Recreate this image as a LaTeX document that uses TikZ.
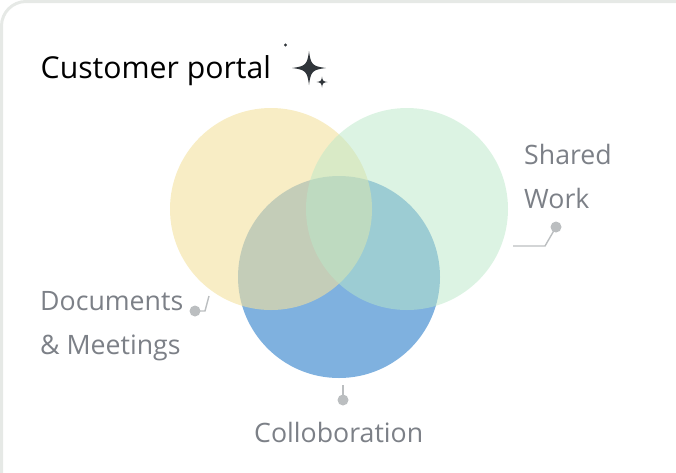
\documentclass[tikz,border=0pt]{standalone}
\usepackage{fontspec}
\setmainfont{Open Sans}
\usepackage{xcolor}
\usetikzlibrary{positioning}
\definecolor{cardline}{HTML}{E6E9E6}
\definecolor{labelgray}{HTML}{7C8087}
\definecolor{leadgray}{HTML}{BBBEC0}
\definecolor{sparkgray}{HTML}{30353A}
\definecolor{vennblue}{HTML}{7FB1DF}
\definecolor{venngreen}{HTML}{BAE8C8}
\definecolor{vennyellow}{HTML}{F3E19E}
\tikzset{
  vlabel/.style={anchor=base west,inner sep=0pt,text=labelgray,font=\fontsize{26.7}{27}\selectfont},
  vdot/.style={circle,fill=leadgray,inner sep=0pt,minimum size=11pt},
  vlead/.style={draw=leadgray,line width=1.4pt}
}
\newcommand{\sparkstar}[3]{%
  \fill[sparkgray] (#1,#2-#3) .. controls (#1+.1*#3,#2-.2*#3) and (#1+.2*#3,#2-.1*#3) .. (#1+#3,#2)
    .. controls (#1+.2*#3,#2+.1*#3) and (#1+.1*#3,#2+.2*#3) .. (#1,#2+#3)
    .. controls (#1-.1*#3,#2+.2*#3) and (#1-.2*#3,#2+.1*#3) .. (#1-#3,#2)
    .. controls (#1-.2*#3,#2-.1*#3) and (#1-.1*#3,#2-.2*#3) .. (#1,#2-#3) -- cycle;}
\begin{document}
\begin{tikzpicture}[x=1pt,y=-1pt]
  \useasboundingbox (0,0) rectangle (676,472);
  \begin{scope}
    \clip (0,0) rectangle (676,472);
    \draw[cardline,line width=3pt,rounded corners=24.5pt] (1.5,500) -- (1.5,1.5) -- (700,1.5);
  \end{scope}
  % circles
  \fill[vennblue] (339,277) circle (101);
  \fill[vennyellow,fill opacity=.6] (271,209) circle (101);
  \fill[venngreen,fill opacity=.5] (407,209) circle (101);
  % title
  \node[anchor=base west,inner sep=0pt,text=black,font=\fontsize{30.2}{30}\selectfont] (title) at (40.5,78) {Customer portal};
  \sparkstar{309}{68}{17}
  \sparkstar{322}{82}{5.5}
  \fill[sparkgray] (285.5,45) circle (1.7);
  % labels
  \node[vlabel] (docs) at (40,310) {Documents};
  \node[vlabel] (meet) at (40,354) {\& Meetings};
  \node[vlabel] (shared) at (524,164) {Shared};
  \node[vlabel] (work) at (524,208) {Work};
  \node[vlabel] (collab) at (254,442) {Colloboration};
  % leaders
  \node[vdot] (docsdot) at (195,311) {};
  \node[vdot] (shareddot) at (556,227) {};
  \node[vdot] (collabdot) at (343,400) {};
  \coordinate (docsa) at (205,311);
  \coordinate (docsb) at (209,296);
  \coordinate (shareda) at (545,246);
  \coordinate (sharedb) at (513,246);
  \coordinate (collaba) at (343,385);
  \draw[vlead] (docsdot.center) -- (docsa) -- (docsb);
  \draw[vlead] (shareddot.center) -- (shareda) -- (sharedb);
  \draw[vlead] (collabdot.center) -- (collaba);
\end{tikzpicture}
\end{document}
